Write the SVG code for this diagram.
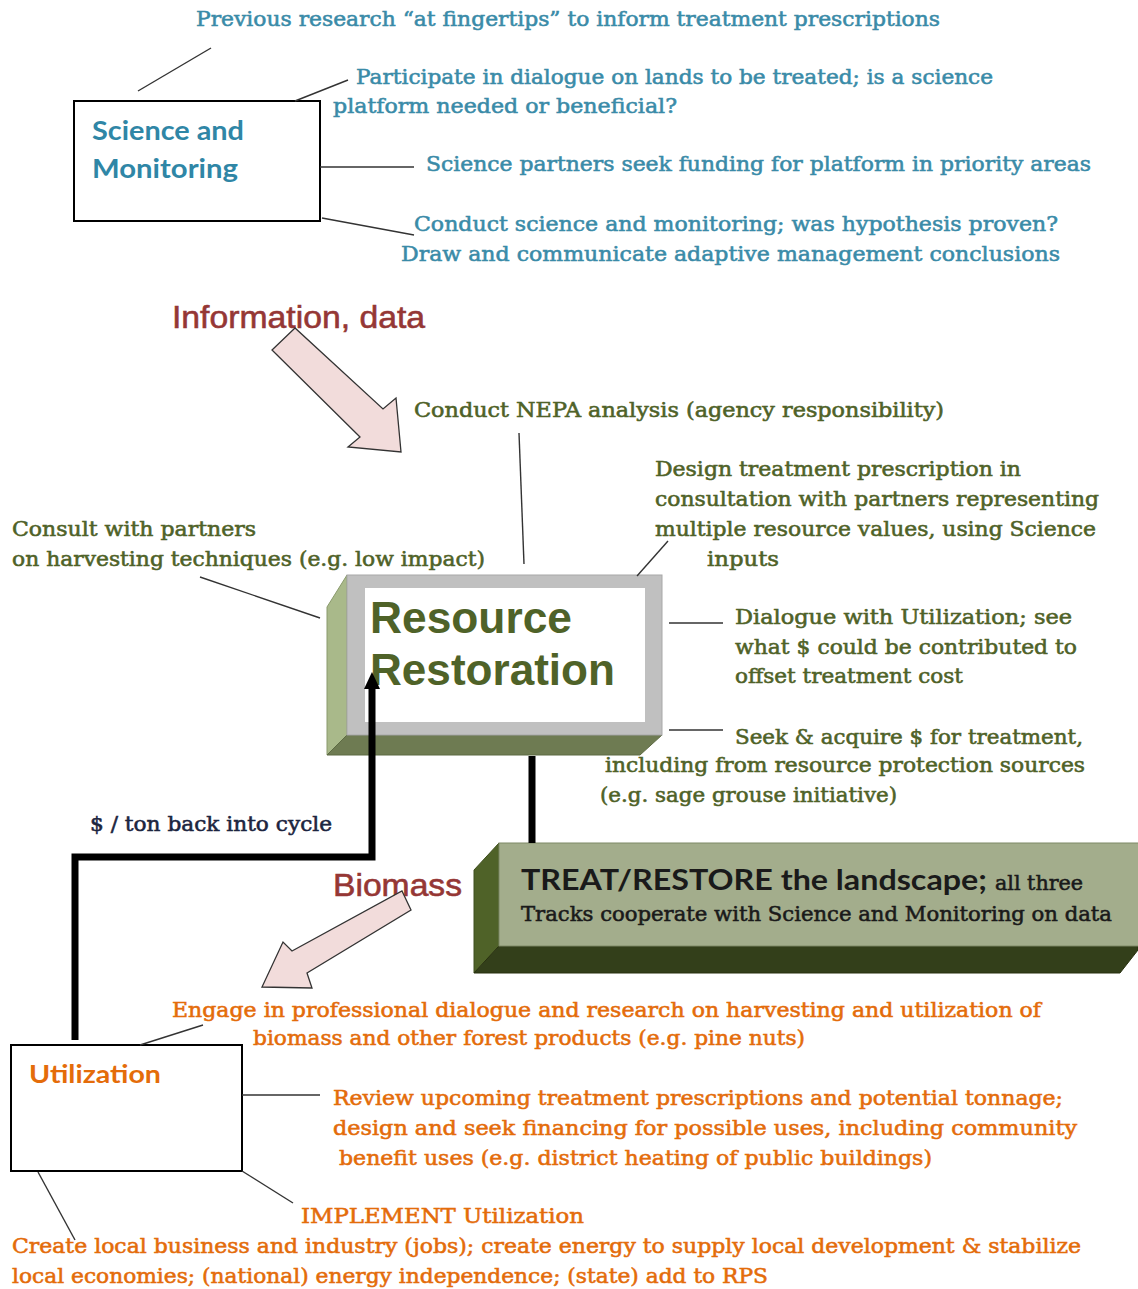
<svg xmlns="http://www.w3.org/2000/svg" width="1138" height="1289" viewBox="0 0 1138 1289">
  <style>
    .note { font-family: "DejaVu Serif", "Liberation Serif", serif; font-size: 20px; stroke-width: 0.55px; }
    .teal { fill: #3a8ba8; stroke: #3a8ba8; }
    .olive { fill: #4f6228; stroke: #4f6228; }
    .orange { fill: #e46c0a; stroke: #e46c0a; }
    .navy { fill: #1c2540; stroke: #1c2540; }
    .dark { fill: #1a1a1a; }
    .head { font-family: Lato, "Liberation Sans", sans-serif; font-weight: bold; }
    .flowlabel { font-family: "Liberation Sans", Arial, sans-serif; font-size: 32px; fill: #953735; stroke: #953735; stroke-width: 0.6px; }
    .leader { stroke: #333; stroke-width: 1.4; fill: none; }
    .thick { stroke: #000; stroke-width: 7; fill: none; }
    .plainbox { fill: #fff; stroke: #000; stroke-width: 2; }
    .blockarrow { fill: #f2dcdb; stroke: #333; stroke-width: 1.3; stroke-linejoin: miter; }
  </style>

  <rect width="1138" height="1289" fill="#fff"/>

  <!-- Science and Monitoring -->
  <g id="science-monitoring">
    <rect class="plainbox" x="74" y="101" width="246" height="120"/>
    <text class="head" x="92" y="140" font-size="26" fill="#2f86a6" textLength="152" lengthAdjust="spacingAndGlyphs">Science and</text>
    <text class="head" x="92" y="178" font-size="26" fill="#2f86a6" textLength="146" lengthAdjust="spacingAndGlyphs">Monitoring</text>
  </g>
  <g id="science-notes" class="note teal">
    <text x="196" y="26" textLength="744" lengthAdjust="spacingAndGlyphs">Previous research “at fingertips” to inform treatment prescriptions</text>
    <text x="356" y="84" textLength="637" lengthAdjust="spacingAndGlyphs">Participate in dialogue on lands to be treated; is a science</text>
    <text x="333" y="113" textLength="344" lengthAdjust="spacingAndGlyphs">platform needed or beneficial?</text>
    <text x="426" y="171" textLength="665" lengthAdjust="spacingAndGlyphs">Science partners seek funding for platform in priority areas</text>
    <text x="414" y="231" textLength="644" lengthAdjust="spacingAndGlyphs">Conduct science and monitoring; was hypothesis proven?</text>
    <text x="401" y="261" textLength="659" lengthAdjust="spacingAndGlyphs">Draw and communicate adaptive management conclusions</text>
  </g>

  <g id="label-information">
    <text class="flowlabel" x="172" y="328" textLength="253" lengthAdjust="spacingAndGlyphs">Information, data</text>
  </g>

  <!-- Resource Restoration (bevelled block) -->
  <g id="resource-restoration">
    <polygon points="347,575 327,607 327,755 347,735" fill="#a9b98a" stroke="#8a9a6c" stroke-width="1"/>
    <polygon points="347,735 662,735 640,755 327,755" fill="#6e7b52" stroke="#5d6a43" stroke-width="1"/>
    <rect x="347" y="575" width="315" height="160" fill="#c0c0c0" stroke="#a8a8a8" stroke-width="1"/>
    <rect x="365" y="588" width="280" height="134" fill="#fff"/>
    <text x="370" y="633" font-family="'Liberation Sans', Arial, sans-serif" font-weight="bold" font-size="44" fill="#4f6228" textLength="202" lengthAdjust="spacingAndGlyphs">Resource</text>
    <text x="370" y="685" font-family="'Liberation Sans', Arial, sans-serif" font-weight="bold" font-size="44" fill="#4f6228" textLength="245" lengthAdjust="spacingAndGlyphs">Restoration</text>
  </g>
  <g id="resource-notes" class="note olive">
    <text x="414" y="417" textLength="530" lengthAdjust="spacingAndGlyphs">Conduct NEPA analysis (agency responsibility)</text>
    <text x="655" y="476" textLength="366" lengthAdjust="spacingAndGlyphs">Design treatment prescription in</text>
    <text x="655" y="506" textLength="444" lengthAdjust="spacingAndGlyphs">consultation with partners representing</text>
    <text x="655" y="536" textLength="441" lengthAdjust="spacingAndGlyphs">multiple resource values, using Science</text>
    <text x="707" y="566" textLength="72" lengthAdjust="spacingAndGlyphs">inputs</text>
    <text x="12" y="536" textLength="244" lengthAdjust="spacingAndGlyphs">Consult with partners</text>
    <text x="12" y="566" textLength="473" lengthAdjust="spacingAndGlyphs">on harvesting techniques (e.g. low impact)</text>
    <text x="735" y="624" textLength="337" lengthAdjust="spacingAndGlyphs">Dialogue with Utilization; see</text>
    <text x="735" y="654" textLength="342" lengthAdjust="spacingAndGlyphs">what $ could be contributed to</text>
    <text x="735" y="683" textLength="228" lengthAdjust="spacingAndGlyphs">offset treatment cost</text>
    <text x="735" y="744" textLength="348" lengthAdjust="spacingAndGlyphs">Seek &amp; acquire $ for treatment,</text>
    <text x="605" y="772" textLength="480" lengthAdjust="spacingAndGlyphs">including from resource protection sources</text>
    <text x="600" y="802" textLength="297" lengthAdjust="spacingAndGlyphs">(e.g. sage grouse initiative)</text>
  </g>

  <g id="label-cycle">
    <text class="note navy" x="90" y="831" textLength="242" lengthAdjust="spacingAndGlyphs">$ / ton back into cycle</text>
  </g>

  <!-- TREAT/RESTORE the landscape (bevelled block) -->
  <g id="treat-restore">
    <polygon points="499,843 474,870 474,973 499,946" fill="#4f6228" stroke="#3f4f1e" stroke-width="1"/>
    <polygon points="499,946 1138,946 1138,950 1120,973 474,973" fill="#333f1a" stroke="#28310f" stroke-width="1"/>
    <rect x="499" y="843" width="645" height="103" fill="#a3ad8c" stroke="#7f8a66" stroke-width="1"/>
    <text class="head dark" x="521" y="890" font-size="28" textLength="466" lengthAdjust="spacingAndGlyphs">TREAT/RESTORE the landscape;</text>
    <text class="note dark" x="995" y="890" stroke="#1a1a1a" textLength="88" lengthAdjust="spacingAndGlyphs">all three</text>
    <text class="note dark" x="521" y="921" stroke="#1a1a1a" textLength="591" lengthAdjust="spacingAndGlyphs">Tracks cooperate with Science and Monitoring on data</text>
  </g>

  <g id="label-biomass">
    <text class="flowlabel" x="333" y="896" textLength="129" lengthAdjust="spacingAndGlyphs">Biomass</text>
  </g>

  <!-- Utilization -->
  <g id="utilization">
    <rect class="plainbox" x="11" y="1045" width="231" height="126"/>
    <text class="head" x="29" y="1083" font-size="25" fill="#e46c0a" textLength="132" lengthAdjust="spacingAndGlyphs">Utilization</text>
  </g>
  <g id="utilization-notes" class="note orange">
    <text x="172" y="1017" textLength="869" lengthAdjust="spacingAndGlyphs">Engage in professional dialogue and research on harvesting and utilization of</text>
    <text x="253" y="1045" textLength="552" lengthAdjust="spacingAndGlyphs">biomass and other forest products (e.g. pine nuts)</text>
    <text x="333" y="1105" textLength="730" lengthAdjust="spacingAndGlyphs">Review upcoming treatment prescriptions and potential tonnage;</text>
    <text x="333" y="1135" textLength="744" lengthAdjust="spacingAndGlyphs">design and seek financing for possible uses, including community</text>
    <text x="339" y="1165" textLength="593" lengthAdjust="spacingAndGlyphs">benefit uses (e.g. district heating of public buildings)</text>
    <text x="301" y="1223" textLength="283" lengthAdjust="spacingAndGlyphs">IMPLEMENT Utilization</text>
    <text x="12" y="1253" textLength="1069" lengthAdjust="spacingAndGlyphs">Create local business and industry (jobs); create energy to supply local development &amp; stabilize</text>
    <text x="12" y="1283" textLength="756" lengthAdjust="spacingAndGlyphs">local economies; (national) energy independence; (state) add to RPS</text>
  </g>

  <!-- connectors and leader lines, drawn over the blocks -->
  <g id="connectors">
    <line class="leader" x1="138" y1="91" x2="211" y2="48"/>
    <line class="leader" x1="295" y1="101" x2="348" y2="80"/>
    <line class="leader" x1="320" y1="167" x2="414" y2="167"/>
    <line class="leader" x1="322" y1="218" x2="414" y2="235"/>
    <line class="leader" x1="519" y1="433" x2="524" y2="564"/>
    <line class="leader" x1="637" y1="576" x2="668" y2="541"/>
    <line class="leader" x1="200" y1="577" x2="320" y2="618"/>
    <line class="leader" x1="669" y1="623" x2="723" y2="623"/>
    <line class="leader" x1="669" y1="730" x2="723" y2="730"/>
    <line class="leader" x1="140" y1="1045" x2="203" y2="1025"/>
    <line class="leader" x1="242" y1="1095" x2="320" y2="1095"/>
    <line class="leader" x1="242" y1="1171" x2="293" y2="1203"/>
    <line class="leader" x1="38" y1="1172" x2="75" y2="1240"/>
    <!-- Resource Restoration feeds the treatment track -->
    <line class="thick" x1="532" y1="756" x2="532" y2="843"/>
    <!-- $ / ton returned from Utilization -->
    <path class="thick" d="M75,1040 V857 H372 V688" stroke-linejoin="miter"/>
    <path d="M364,689 L372,672 L380,689 Z" fill="#000"/>
    <!-- information flow into Resource Restoration -->
    <polygon class="blockarrow" points="295,328 272,350 360,437 348,447 401,452 396,398 383,409"/>
    <!-- biomass flow into Utilization -->
    <polygon class="blockarrow" points="402,891 411,910 307,973 312,988 262,987 283,942 292,951"/>
  </g>
</svg>
